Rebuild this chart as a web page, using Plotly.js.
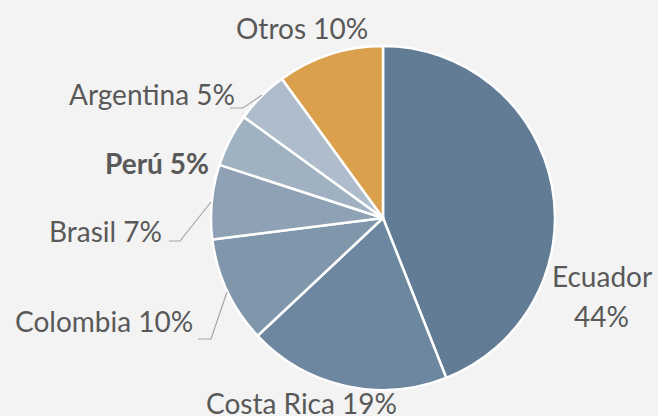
<!DOCTYPE html>
<html>
<head>
<meta charset="utf-8">
<script src="https://cdn.plot.ly/plotly-3.0.1.min.js"></script>
<style>html,body{margin:0;padding:0;background:#f3f3f3;}#chart{width:658px;height:416px;}</style>
</head>
<body>
<div id="chart"></div>
<script>
const labels = ['Ecuador', 'Costa Rica', 'Colombia', 'Brasil', 'Perú', 'Argentina', 'Otros'];
const values = [44, 19, 10, 7, 5, 5, 10];
const colors = ['#627c96', '#6e87a0', '#8096ab', '#8fa1b5', '#a0b1c2', '#aebccb', '#dba04c'];

const W = 658, H = 416;
const px = x => x / W;
const py = y => 1 - y / H;
const total = values.reduce((a, b) => a + b, 0);
const pct = v => Math.round(v / total * 100) + '%';

const FONT = {family: 'Lato, "Open Sans", sans-serif', size: 28, color: '#595959'};

// label placement (text anchor points, pixels)
const labelPos = {
  'Costa Rica':{x: 301, y: 403, xa: 'center'},
  'Colombia':  {x: 195, y: 321, xa: 'right'},
  'Brasil':    {x: 164, y: 231, xa: 'right'},
  'Perú':      {x: 211, y: 163, xa: 'right', bold: true},
  'Argentina': {x: 237, y: 94,  xa: 'right'},
  'Otros':     {x: 302, y: 28,  xa: 'center'}
};

const annotations = [];
labels.forEach((l, i) => {
  if (l === 'Ecuador') {
    annotations.push({x: px(602), y: py(276), xref: 'paper', yref: 'paper', text: l, showarrow: false, xanchor: 'center', yanchor: 'middle', font: FONT});
    annotations.push({x: px(601), y: py(316), xref: 'paper', yref: 'paper', text: pct(values[i]), showarrow: false, xanchor: 'center', yanchor: 'middle', font: FONT});
    return;
  }
  const p = labelPos[l];
  const t = l + ' ' + pct(values[i]);
  annotations.push({
    x: px(p.x), y: py(p.y), xref: 'paper', yref: 'paper',
    text: p.bold ? '<b>' + t + '</b>' : t,
    showarrow: false, xanchor: p.xa, yanchor: 'middle', font: FONT
  });
});

const lp = pts => 'M' + pts.map(q => px(q[0]) + ',' + py(q[1])).join(' L');
const leader = {type: 'path', xref: 'paper', yref: 'paper', line: {color: '#a6a6a6', width: 1.2}};
const shapes = [
  Object.assign({}, leader, {path: lp([[230,108],[243,108],[262,95]])}),
  Object.assign({}, leader, {path: lp([[169,241],[180,241],[211,202]])}),
  Object.assign({}, leader, {path: lp([[198,339],[211,339],[227,292]])})
];

const trace = {
  type: 'pie',
  labels: labels,
  values: values,
  sort: false,
  direction: 'clockwise',
  rotation: 0,
  marker: {colors: colors, line: {color: '#ffffff', width: 2.5}},
  textinfo: 'none',
  hoverinfo: 'label+percent',
  domain: {x: [px(211), px(555)], y: [py(390), py(46)]},
  showlegend: false
};

const layout = {
  width: W, height: H,
  margin: {l: 0, r: 0, t: 0, b: 0},
  paper_bgcolor: '#f3f3f3',
  plot_bgcolor: '#f3f3f3',
  showlegend: false,
  annotations: annotations,
  shapes: shapes
};

Plotly.newPlot('chart', [trace], layout, {displayModeBar: false, staticPlot: true});
</script>
</body>
</html>
